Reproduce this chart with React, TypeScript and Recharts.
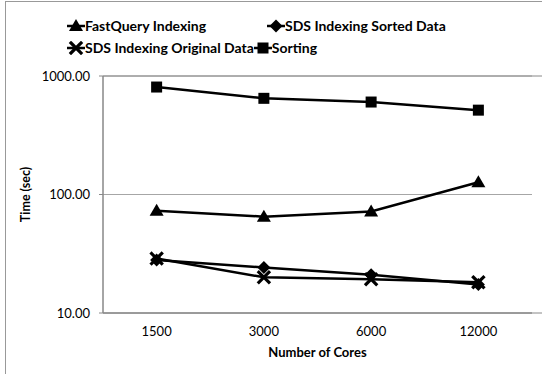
import React from 'react';
import { LineChart, Line, XAxis, YAxis, CartesianGrid, ReferenceArea } from 'recharts';

const categories = ['1500', '3000', '6000', '12000'];
const fastQuery = [73, 65, 72, 127];
const sdsSorted = [28.0, 24.2, 21.0, 17.4];
const sdsOriginal = [28.8, 20.0, 19.3, 18.2];
const sorting = [807, 648, 603, 515];
const yTicks = [10, 100, 1000];
const frameTicks = [0, 1, 2, 3, 4];

const seriesDefs = [
  { key: 'fastQuery', name: 'FastQuery Indexing', shape: 'triangle', values: fastQuery },
  { key: 'sdsSorted', name: 'SDS Indexing Sorted Data', shape: 'diamond', values: sdsSorted },
  { key: 'sdsOriginal', name: 'SDS Indexing Original Data', shape: 'cross', values: sdsOriginal },
  { key: 'sorting', name: 'Sorting', shape: 'square', values: sorting },
];

const data = categories.map((c, i) => {
  const row: any = { cores: c };
  seriesDefs.forEach((s) => (row[s.key] = s.values[i]));
  return row;
});

const FONT = 'Lato, "Open Sans", sans-serif';

function MarkerShape({ shape, cx, cy }: { shape: string; cx: number; cy: number }) {
  if (shape === 'square') {
    return <rect x={cx - 5.5} y={cy - 5.5} width={11} height={11} fill="#000" />;
  }
  if (shape === 'triangle') {
    return <polygon points={`${cx},${cy - 7} ${cx + 7},${cy + 5} ${cx - 7},${cy + 5}`} fill="#000" />;
  }
  if (shape === 'diamond') {
    return <polygon points={`${cx},${cy - 6.5} ${cx + 6.5},${cy} ${cx},${cy + 6.5} ${cx - 6.5},${cy}`} fill="#000" />;
  }
  return (
    <g stroke="#000" strokeWidth={3.2} strokeLinecap="square">
      <line x1={cx - 5} y1={cy - 5} x2={cx + 5} y2={cy + 5} />
      <line x1={cx - 5} y1={cy + 5} x2={cx + 5} y2={cy - 5} />
    </g>
  );
}

function LegendItem({ s, width }: { s: any; width?: number }) {
  return (
    <div style={{ display: 'flex', alignItems: 'center', width, whiteSpace: 'nowrap' }}>
      <svg width={18} height={14}>
        <line x1={0} y1={7} x2={18} y2={7} stroke="#000" strokeWidth={2.5} />
        <MarkerShape shape={s.shape} cx={9} cy={7} />
      </svg>
      <span style={{ fontFamily: FONT, fontWeight: 700, fontSize: 14, color: '#000', marginLeft: 0, lineHeight: '16px' }}>{s.name}</span>
    </div>
  );
}

export default function App() {
  return (
    <div style={{ position: 'fixed', left: 0, top: 0, width: 542, height: 374, background: '#fff' }}>
      <div style={{ position: 'absolute', left: 5, top: 1, width: 537, height: 373, borderLeft: '1px solid #999', borderTop: '1px solid #999' }} />
      <div style={{ position: 'absolute', left: 67, top: 18, display: 'flex', flexDirection: 'column', gap: 6 }}>
        <div style={{ display: 'flex' }}>
          <LegendItem s={seriesDefs[0]} width={200} />
          <LegendItem s={seriesDefs[1]} />
        </div>
        <div style={{ display: 'flex' }}>
          <LegendItem s={seriesDefs[2]} />
          <LegendItem s={seriesDefs[3]} />
        </div>
      </div>
      <LineChart width={542} height={374} data={data} margin={{ top: 76, right: 10, left: 0, bottom: 16 }} style={{ position: 'absolute', left: 0, top: 0 }}>
        <CartesianGrid vertical={false} stroke="#a6a6a6" />
        <XAxis
          xAxisId="frame"
          type="number"
          domain={[0, 4]}
          ticks={frameTicks}
          allowDataOverflow
          tick={false}
          axisLine={false}
          tickLine={{ stroke: '#888' }}
          tickSize={5}
          height={0}
        />
        <XAxis
          dataKey="cores"
          scale="band"
          tickLine={false}
          axisLine={{ stroke: '#888' }}
          tick={{ fontFamily: FONT, fontSize: 13, fill: '#000' }}
          tickMargin={8}
          height={45}
          label={{ value: 'Number of Cores', position: 'insideBottom', offset: 1, style: { fontFamily: FONT, fontWeight: 700, fontSize: 13, fill: '#000' } }}
        />
        <YAxis
          scale="log"
          domain={[10, 1000]}
          ticks={yTicks}
          allowDataOverflow
          width={103}
          tickSize={4}
          tickMargin={9}
          tickLine={{ stroke: '#888' }}
          axisLine={{ stroke: '#888' }}
          tickFormatter={(v: number) => v.toFixed(2)}
          tick={{ fontFamily: FONT, fontSize: 13, fill: '#000' }}
          label={{ value: 'Time (sec)', angle: -90, position: 'insideLeft', offset: 26, style: { fontFamily: FONT, fontWeight: 700, fontSize: 12.5, fill: '#000', textAnchor: 'middle' } }}
        />
        <ReferenceArea xAxisId="frame" x1={0} x2={4} y1={10} y2={1000} fill="none" stroke="#888" ifOverflow="visible" />
        {seriesDefs.map((s) => (
          <Line
            key={s.key}
            dataKey={s.key}
            name={s.name}
            stroke="#000"
            strokeWidth={2.5}
            isAnimationActive={false}
            dot={(p: any) => <MarkerShape key={`${s.key}-${p.index}`} shape={s.shape} cx={p.cx} cy={p.cy} />}
            activeDot={false}
          />
        ))}
      </LineChart>
    </div>
  );
}
